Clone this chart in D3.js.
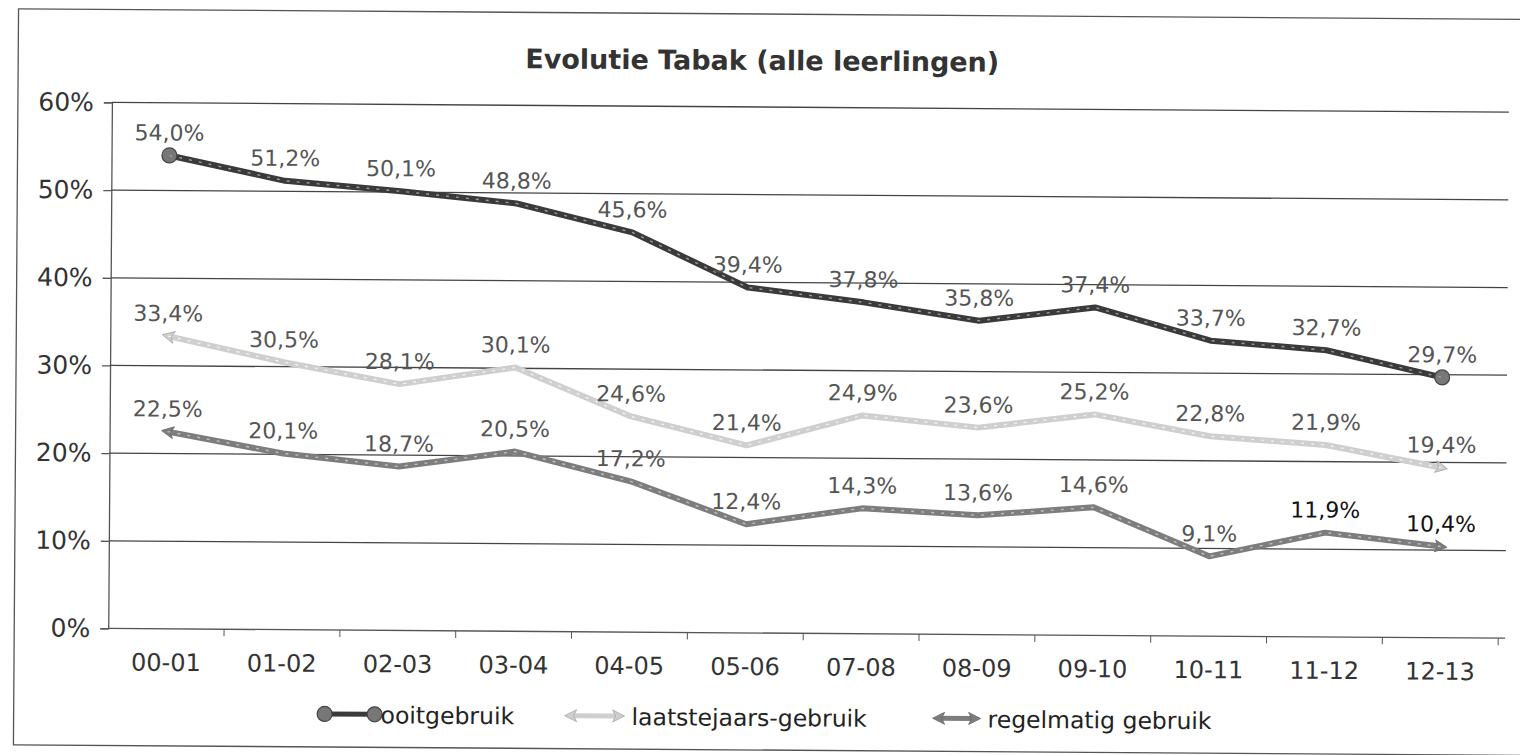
<!DOCTYPE html>
<html>
<head>
<meta charset="utf-8">
<script src="https://cdn.jsdelivr.net/npm/d3@7"></script>
<style>
  body { margin: 0; background: #fff; }
  svg { display: block; }
  text { font-family: "DejaVu Sans", Verdana, sans-serif; }
</style>
</head>
<body>
<svg id="chart" width="1520" height="755"></svg>
<script>
// data
var categories = ['00-01', '01-02', '02-03', '03-04', '04-05', '05-06',
                  '07-08', '08-09', '09-10', '10-11', '11-12', '12-13'];
var ooitgebruik = [54.0, 51.2, 50.1, 48.8, 45.6, 39.4, 37.8, 35.8, 37.4, 33.7, 32.7, 29.7];
var laatstejaars = [33.4, 30.5, 28.1, 30.1, 24.6, 21.4, 24.9, 23.6, 25.2, 22.8, 21.9, 19.4];
var regelmatig = [22.5, 20.1, 18.7, 20.5, 17.2, 12.4, 14.3, 13.6, 14.6, 9.1, 11.9, 10.4];
var yTicks = [0, 10, 20, 30, 40, 50, 60];
var seriesNames = ['ooitgebruik', 'laatstejaars-gebruik', 'regelmatig gebruik'];
var title = 'Evolutie Tabak (alle leerlingen)';

var W = 1520, H = 755;
var plot = { left: 110, right: 1500, top: 107, bottom: 633 };

var series = [
    { name: seriesNames[0], values: ooitgebruik, stroke: '#3a3a3a', hi: '#9a9a9a', mark: 'dot' },
    { name: seriesNames[1], values: laatstejaars, stroke: '#cfcfcf', hi: '#efefef', mark: 'arrowLight' },
    { name: seriesNames[2], values: regelmatig, stroke: '#7d7d7d', hi: '#bdbdbd', mark: 'arrowMid' }
];
// a few labels print darker in the scan
var darkLabels = { '2-10': true, '2-11': true };

var svg = d3.select('#chart');
var defs = svg.append('defs');

function arrowMarker(id, fill) {
    defs.append('marker')
        .attr('id', id)
        .attr('viewBox', '-2 -7 16 14')
        .attr('refX', 6)
        .attr('refY', 0)
        .attr('markerUnits', 'userSpaceOnUse')
        .attr('markerWidth', 16)
        .attr('markerHeight', 14)
        .attr('orient', 'auto-start-reverse')
        .append('path')
        .attr('d', 'M0,-6 L12,0 L0,6 L3,0 Z')
        .attr('fill', fill)
        .attr('stroke', d3.color(fill).darker(0.6))
        .attr('stroke-width', 0.8);
}
arrowMarker('arrowLight', '#cfcfcf');
arrowMarker('arrowMid', '#7d7d7d');

defs.append('marker')
    .attr('id', 'dot')
    .attr('viewBox', '-9 -9 18 18')
    .attr('refX', 0)
    .attr('refY', 0)
    .attr('markerUnits', 'userSpaceOnUse')
    .attr('markerWidth', 18)
    .attr('markerHeight', 18)
    .append('circle')
    .attr('r', 7.5)
    .attr('fill', '#777')
    .attr('stroke', '#444')
    .attr('stroke-width', 1.2);

// the scan is slightly rotated
var root = svg.append('g').attr('transform', 'rotate(0.4,' + W / 2 + ',' + H / 2 + ')');

root.append('rect')
    .attr('x', 16).attr('y', 14)
    .attr('width', 1530).attr('height', 736)
    .attr('fill', 'none')
    .attr('stroke', '#555')
    .attr('stroke-width', 1.3);

root.append('text')
    .attr('x', 760).attr('y', 70)
    .attr('text-anchor', 'middle')
    .attr('font-size', 27)
    .attr('font-weight', 'bold')
    .attr('fill', '#333')
    .text(title);

var x = d3.scaleBand().domain(categories).range([plot.left, plot.right]);
var y = d3.scaleLinear().domain([0, 60]).range([plot.bottom, plot.top]);
var cx = function(c) { return x(c) + x.bandwidth() / 2; };

// gridlines + y labels
var yAxis = root.append('g')
    .attr('transform', 'translate(' + plot.left + ',0)')
    .call(d3.axisLeft(y).tickValues(yTicks).tickSize(8)
        .tickFormat(function(d) { return d + '%'; }));
yAxis.select('.domain').attr('stroke', '#555').attr('stroke-width', 1.3);
yAxis.selectAll('.tick line').attr('stroke', '#555').attr('stroke-width', 1.3);
yAxis.selectAll('.tick text')
    .attr('x', -18)
    .attr('font-size', 25)
    .attr('font-family', '"DejaVu Sans", Verdana, sans-serif')
    .attr('fill', '#333');

root.append('g').selectAll('line')
    .data(yTicks.filter(function(d) { return d > 0; }))
    .join('line')
    .attr('x1', plot.left).attr('x2', 1507)
    .attr('y1', function(d) { return y(d); })
    .attr('y2', function(d) { return y(d); })
    .attr('stroke', '#444')
    .attr('stroke-width', 1.3);

// x axis: ticks sit between categories
var xAxisG = root.append('g').attr('transform', 'translate(0,' + plot.bottom + ')');
xAxisG.append('line')
    .attr('x1', plot.left).attr('x2', 1507)
    .attr('stroke', '#555').attr('stroke-width', 1.3);
xAxisG.selectAll('.sep')
    .data(categories)
    .join('line')
    .attr('class', 'sep')
    .attr('x1', function(c) { return x(c) + x.bandwidth(); })
    .attr('x2', function(c) { return x(c) + x.bandwidth(); })
    .attr('y1', 0).attr('y2', 7)
    .attr('stroke', '#555');
xAxisG.selectAll('.lbl')
    .data(categories)
    .join('text')
    .attr('class', 'lbl')
    .attr('x', cx)
    .attr('y', 42)
    .attr('text-anchor', 'middle')
    .attr('font-size', 24)
    .attr('fill', '#333')
    .text(function(c) { return c; });

var line = d3.line()
    .x(function(d, i) { return cx(categories[i]); })
    .y(function(d) { return y(d); });

series.forEach(function(s, si) {
    var g = root.append('g');
    g.append('path')
        .attr('d', line(s.values))
        .attr('fill', 'none')
        .attr('stroke', s.stroke)
        .attr('stroke-width', 6)
        .attr('stroke-linejoin', 'round')
        .attr('marker-start', 'url(#' + s.mark + ')')
        .attr('marker-end', 'url(#' + s.mark + ')');
    g.append('path')
        .attr('d', line(s.values))
        .attr('fill', 'none')
        .attr('stroke', s.hi)
        .attr('stroke-width', 1.4)
        .attr('stroke-dasharray', '3 7');
    g.selectAll('text')
        .data(s.values)
        .join('text')
        .attr('x', function(d, i) { return cx(categories[i]); })
        .attr('y', function(d) { return y(d) - 15; })
        .attr('text-anchor', 'middle')
        .attr('font-size', 22)
        .attr('fill', function(d, i) { return darkLabels[si + '-' + i] ? '#111' : '#555'; })
        .text(function(d) { return d.toFixed(1).replace('.', ',') + '%'; });
});

// legend
var legendX = [327, 567, 935];
var legendLen = [50, 60, 48];
var legend = root.append('g').attr('transform', 'translate(0,717)');
series.forEach(function(s, i) {
    var lg = legend.append('g').attr('transform', 'translate(' + legendX[i] + ',0)');
    var len = legendLen[i];
    var pad = i === 0 ? 0 : 6;
    lg.append('path')
        .attr('d', 'M' + pad + ',0 L' + (len - pad) + ',0')
        .attr('stroke', s.stroke)
        .attr('stroke-width', 5)
        .attr('marker-start', 'url(#' + s.mark + ')')
        .attr('marker-end', 'url(#' + s.mark + ')');
    lg.append('text')
        .attr('x', len + (i === 0 ? 6 : 7))
        .attr('y', 9)
        .attr('font-size', 23.5)
        .attr('fill', '#222')
        .text(s.name);
});
</script>
</body>
</html>
